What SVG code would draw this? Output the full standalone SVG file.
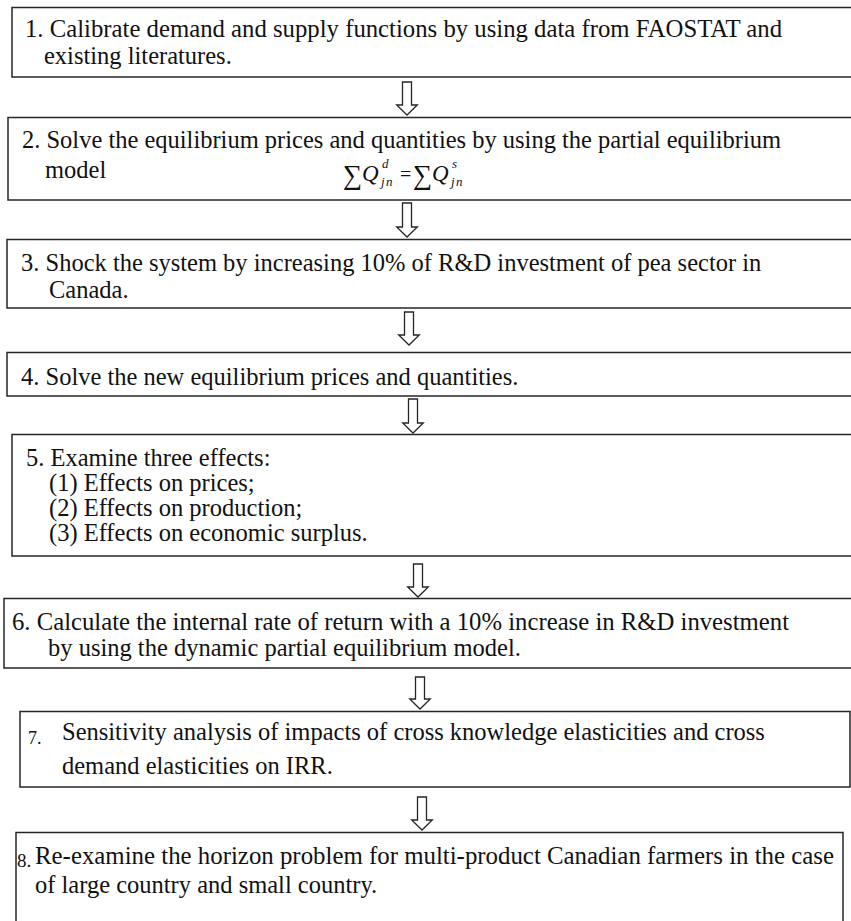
<svg xmlns="http://www.w3.org/2000/svg" width="851" height="921" viewBox="0 0 851 921">
<style>
.box{fill:#fff;stroke:#262626;stroke-width:1.5}
.t{font-family:"Liberation Serif","Times New Roman",serif;font-size:24.5px;fill:#111}
.num{font-family:"Liberation Serif","Times New Roman",serif;fill:#111}
.m{font-family:"Liberation Serif","DejaVu Serif",serif;fill:#111}
.mi{font-family:"Liberation Serif","DejaVu Serif",serif;font-style:italic;fill:#111}
.arr{fill:#fff;stroke:#262626;stroke-width:1.3;stroke-linejoin:miter}
</style>
<rect width="851" height="921" fill="#fff"/>
<g id="connectors">
<path class="arr" d="M402.5,82 H411.5 V105 H417.3 L407,115 L396.7,105 H402.5 Z"/>
<path class="arr" d="M402.5,203 H411.5 V227 H417.3 L407,237 L396.7,227 H402.5 Z"/>
<path class="arr" d="M404.5,312 H413.5 V335 H419.3 L409,345 L398.7,335 H404.5 Z"/>
<path class="arr" d="M408.5,399 H417.5 V423 H423.3 L413,433 L402.7,423 H408.5 Z"/>
<path class="arr" d="M413.5,564 H422.5 V587 H428.3 L418,597 L407.7,587 H413.5 Z"/>
<path class="arr" d="M415.5,677 H424.5 V699 H430.3 L420,709 L409.7,699 H415.5 Z"/>
<path class="arr" d="M417.5,797 H426.5 V820 H432.3 L422,830 L411.7,820 H417.5 Z"/>
</g>
<g id="node1">
<rect class="box" x="12" y="7.5" width="850" height="69.5"/>
<text class="t" x="25" y="37" textLength="757" lengthAdjust="spacingAndGlyphs">1. Calibrate demand and supply functions by using data from FAOSTAT and</text>
<text class="t" x="44" y="64">existing literatures.</text>
</g>
<g id="node2">
<rect class="box" x="8" y="117.5" width="854" height="82.5"/>
<text class="t" x="22" y="148" textLength="759" lengthAdjust="spacingAndGlyphs">2. Solve the equilibrium prices and quantities by using the partial equilibrium</text>
<text class="t" x="45" y="178">model</text>
<text class="m" x="343" y="184" font-size="27">∑</text>
<text class="mi" x="362" y="181" font-size="23">Q</text>
<text class="mi" x="382" y="168" font-size="13">d</text>
<text class="mi" x="381" y="186" font-size="13" letter-spacing="1.5">jn</text>
<text class="m" x="400" y="181" font-size="20">=</text>
<text class="m" x="413" y="184" font-size="27">∑</text>
<text class="mi" x="432" y="181" font-size="23">Q</text>
<text class="mi" x="452" y="168" font-size="13">s</text>
<text class="mi" x="451" y="186" font-size="13" letter-spacing="1.5">jn</text>
</g>
<g id="node3">
<rect class="box" x="7" y="239.5" width="855" height="68.5"/>
<text class="t" x="21" y="271">3. Shock the system by increasing 10% of R&amp;D investment of pea sector in</text>
<text class="t" x="49" y="298">Canada.</text>
</g>
<g id="node4">
<rect class="box" x="7" y="352.5" width="855" height="43.5"/>
<text class="t" x="21" y="385">4. Solve the new equilibrium prices and quantities.</text>
</g>
<g id="node5">
<rect class="box" x="12" y="434.5" width="850" height="121.5"/>
<text class="t" x="26" y="466">5. Examine three effects:</text>
<text class="t" x="49" y="491">(1) Effects on prices;</text>
<text class="t" x="49" y="516">(2) Effects on production;</text>
<text class="t" x="49" y="541">(3) Effects on economic surplus.</text>
</g>
<g id="node6">
<rect class="box" x="4" y="598.5" width="858" height="69.5"/>
<text class="t" x="12" y="630" textLength="777" lengthAdjust="spacingAndGlyphs">6. Calculate the internal rate of return with a 10% increase in R&amp;D investment</text>
<text class="t" x="48" y="656">by using the dynamic partial equilibrium model.</text>
</g>
<g id="node7">
<rect class="box" x="20" y="711.5" width="830" height="75.5"/>
<text class="num" x="28" y="744" font-size="18">7.</text>
<text class="t" x="62" y="740">Sensitivity analysis of impacts of cross knowledge elasticities and cross</text>
<text class="t" x="62" y="774">demand elasticities on IRR.</text>
</g>
<g id="node8">
<rect class="box" x="16" y="832.5" width="827" height="100"/>
<text class="num" x="17" y="867" font-size="19">8.</text>
<text class="t" x="35" y="864" textLength="799" lengthAdjust="spacingAndGlyphs">Re-examine the horizon problem for multi-product Canadian farmers in the case</text>
<text class="t" x="35" y="893">of large country and small country.</text>
</g>
</svg>
